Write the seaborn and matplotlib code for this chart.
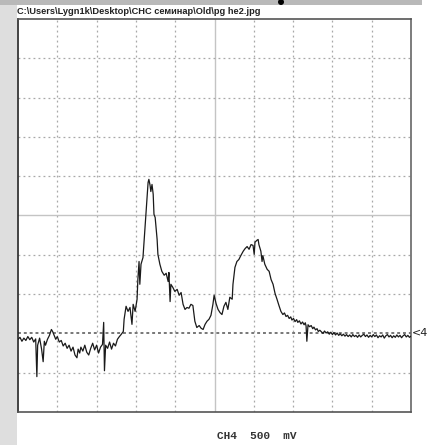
import numpy as np
import pandas as pd
import matplotlib
matplotlib.use("Agg")
import matplotlib.pyplot as plt
from matplotlib.patches import Rectangle, Ellipse
import seaborn as sns

# Oscilloscope capture, CH4, 500 mV/div; x in horizontal divisions, y in divisions above the channel ground marker
time_div = [
    0.00, 0.05, 0.10, 0.15, 0.20, 0.25, 0.30, 0.35, 0.40, 0.45, 0.48, 0.50, 0.55, 0.60, 0.64, 0.67,
    0.70, 0.75, 0.80, 0.85, 0.88, 0.92, 0.96, 1.00, 1.05, 1.10, 1.15, 1.20, 1.25, 1.30, 1.35, 1.40,
    1.45, 1.50, 1.53, 1.57, 1.60, 1.65, 1.70, 1.75, 1.80, 1.85, 1.90, 1.95, 2.00, 2.05, 2.10, 2.15,
    2.18, 2.20, 2.23, 2.28, 2.33, 2.38, 2.43, 2.48, 2.53, 2.58, 2.63, 2.68,
    2.70, 2.75, 2.80, 2.85, 2.90, 2.93, 2.98, 3.03, 3.05, 3.08, 3.10, 3.13, 3.18, 3.23, 3.28, 3.31,
    3.33, 3.36, 3.38, 3.41, 3.44, 3.46, 3.49, 3.54, 3.56, 3.61, 3.66, 3.72, 3.77, 3.82, 3.84, 3.87,
    3.89, 3.94, 3.99, 4.05, 4.10, 4.15, 4.20, 4.25, 4.30, 4.35, 4.40, 4.45, 4.50, 4.55, 4.61, 4.66,
    4.71, 4.76, 4.81, 4.86, 4.91, 4.96, 4.99, 5.04, 5.09, 5.14, 5.19, 5.24, 5.29, 5.34, 5.39, 5.45,
    5.47, 5.52, 5.57, 5.62, 5.67, 5.73, 5.78, 5.83, 5.88, 5.93, 5.98, 6.01, 6.03, 6.08, 6.11, 6.13,
    6.18, 6.21, 6.23, 6.28, 6.34, 6.39, 6.44, 6.49, 6.54, 6.59, 6.64, 6.69,
    6.74, 6.78, 6.82, 6.86, 6.90, 6.94, 6.97, 7.01, 7.05, 7.09, 7.12, 7.16, 7.20, 7.24, 7.28, 7.31,
    7.33, 7.35, 7.38, 7.42, 7.46, 7.50, 7.53, 7.57, 7.61, 7.64, 7.68,
    7.72, 7.76, 7.80, 7.84, 7.88, 7.92, 7.96, 8.00, 8.04, 8.08, 8.12, 8.16, 8.20, 8.24, 8.28, 8.32,
    8.36, 8.40, 8.44, 8.48, 8.52, 8.56, 8.60, 8.64, 8.68, 8.72, 8.76, 8.80, 8.84, 8.88, 8.92, 8.96,
    9.00, 9.04, 9.08, 9.12, 9.16, 9.20, 9.24, 9.28, 9.32, 9.36, 9.40, 9.44, 9.48, 9.52, 9.56, 9.60,
    9.64, 9.68, 9.72, 9.76, 9.80, 9.84, 9.88, 9.92, 9.96, 10.00,
]
signal_div = [
    -0.15, -0.10, -0.20, -0.12, -0.18, -0.08, -0.16, -0.10, -0.22, -0.14, -1.10, -0.30, -0.12, -0.40, -0.72, -0.20,
    -0.30, -0.15, -0.05, 0.10, 0.05, -0.05, -0.15, -0.08, -0.22, -0.18, -0.32, -0.25, -0.38, -0.30, -0.45, -0.35,
    -0.55, -0.62, -0.40, -0.50, -0.35, -0.45, -0.30, -0.48, -0.55, -0.38, -0.25, -0.42, -0.30, -0.50, -0.35, -0.28,
    0.28, -0.95, -0.30, -0.38, -0.22, -0.40, -0.25, -0.32, -0.15, -0.08, -0.02, 0.05,
    0.36, 0.69, 0.56, 0.66, 0.23, 0.74, 0.56, 0.87, 1.37, 1.83, 1.25, 1.76, 1.93, 2.65, 3.41, 3.84,
    3.92, 3.77, 3.61, 3.79, 3.54, 3.03, 2.95, 2.39, 2.01, 1.76, 1.58, 1.48, 1.53, 1.32, 1.55, 0.81,
    1.25, 1.17, 1.07, 1.12, 0.97, 1.04, 0.74, 0.61, 0.66, 0.64, 0.74, 0.71, 0.31, 0.15, 0.20, 0.13,
    0.10, 0.23, 0.31, 0.36, 0.46, 0.74, 0.97, 0.76, 0.61, 0.53, 0.48, 0.69, 0.79, 0.61, 0.92, 0.87,
    1.25, 1.68, 1.83, 1.88, 1.98, 2.09, 2.16, 2.21, 2.14, 2.26, 2.24, 2.01, 2.32, 2.37, 2.39, 2.26,
    2.09, 1.83, 1.98, 1.76, 1.63, 1.58, 1.37, 1.25, 1.02, 0.87, 0.71, 0.56,
    0.48, 0.52, 0.43, 0.46, 0.38, 0.42, 0.34, 0.38, 0.30, 0.35, 0.28, 0.32, 0.24, 0.29, 0.22, 0.27,
    0.19, -0.20, 0.22, 0.17, 0.20, 0.12, 0.16, 0.09, 0.12, 0.05, 0.08,
    0.04, 0.00, 0.06, 0.01, 0.04, -0.02, 0.03, -0.03, 0.02, -0.04, 0.01, -0.05, -0.01, -0.06, -0.02, -0.07,
    -0.03, -0.08, -0.04, -0.09, -0.03, -0.08, -0.05, -0.10, -0.04, -0.09, -0.05, -0.02, -0.08, -0.04, -0.10, -0.05,
    -0.09, -0.03, -0.08, -0.04, -0.11, -0.06, -0.09, -0.04, -0.12, -0.06, -0.03, -0.09, -0.05, -0.11, -0.06, -0.10,
    -0.04, -0.09, -0.05, -0.11, -0.06, -0.03, -0.09, -0.05, -0.10, -0.07,
]

title_path = "C:\\Users\\Lygn1k\\Desktop\\CHC семинар\\Old\\pg he2.jpg"
channel_label = "CH4  500  mV"
channel_marker = "<4"

trace = pd.DataFrame({"t": time_div, "v": signal_div})

sns.set_style("white")
W, H = 434, 445
fig = plt.figure(figsize=(W / 100, H / 100), dpi=100)
fig.patch.set_facecolor("white")

# grey slide margins behind the capture
fig.patches.append(Rectangle((0, 0), 17 / W, 1, transform=fig.transFigure,
                             facecolor="#dedede", edgecolor="none", zorder=0))
fig.patches.append(Rectangle((0, 1 - 5 / H), 422 / W, 5 / H, transform=fig.transFigure,
                             facecolor="#b9b9b9", edgecolor="none", zorder=0))
fig.patches.append(Ellipse((281 / W, 1 - 2 / H), 6 / W, 6 / H, transform=fig.transFigure,
                           facecolor="black", edgecolor="none", zorder=1))

ax = fig.add_axes([18 / W, 33 / H, 393 / W, 393 / H])
ax.set_xlim(0, 10)
ax.set_ylim(-2, 8)

# graticule: dotted divisions, solid centre cross, heavier ground-level line
for xv in range(1, 10):
    if xv == 5:
        ax.axvline(xv, color="#c4c4c4", lw=1.0, zorder=1)
    else:
        ax.axvline(xv, color="#a8a8a8", lw=0.9, ls=(0, (1.5, 2.5)), zorder=1)
for yv in range(-1, 8):
    if yv == 3:
        ax.axhline(yv, color="#c4c4c4", lw=1.0, zorder=1)
    elif yv == 0:
        ax.axhline(yv, color="#777777", lw=1.4, ls=(0, (1.5, 1.5)), zorder=1)
    else:
        ax.axhline(yv, color="#a8a8a8", lw=0.9, ls=(0, (1.5, 2.5)), zorder=1)

sns.lineplot(data=trace, x="t", y="v", ax=ax, color="#1a1a1a", lw=0.9,
             sort=False, estimator=None, zorder=3)

ax.set_xticks([])
ax.set_yticks([])
ax.set_xlabel("")
ax.set_ylabel("")
for side, col in [("left", "#222222"), ("bottom", "#555555"), ("top", "#555555"), ("right", "#666666")]:
    ax.spines[side].set_visible(True)
    ax.spines[side].set_color(col)
    ax.spines[side].set_linewidth(1.2)

ax.text(1.003, 0, channel_marker, transform=ax.get_yaxis_transform(), ha="left", va="center",
        fontsize=8, color="#222222", family="DejaVu Sans", clip_on=False)

fig.text(17 / W, 1 - 12 / H, title_path, ha="left", va="center", fontsize=6.7,
         fontweight="bold", family="Liberation Sans", color="#222222")
fig.text(257 / W, 1 - 436 / H, channel_label, ha="center", va="center", fontsize=8,
         fontweight="bold", family="Liberation Mono", color="#333333")

fig.savefig("out.png", dpi=100)
